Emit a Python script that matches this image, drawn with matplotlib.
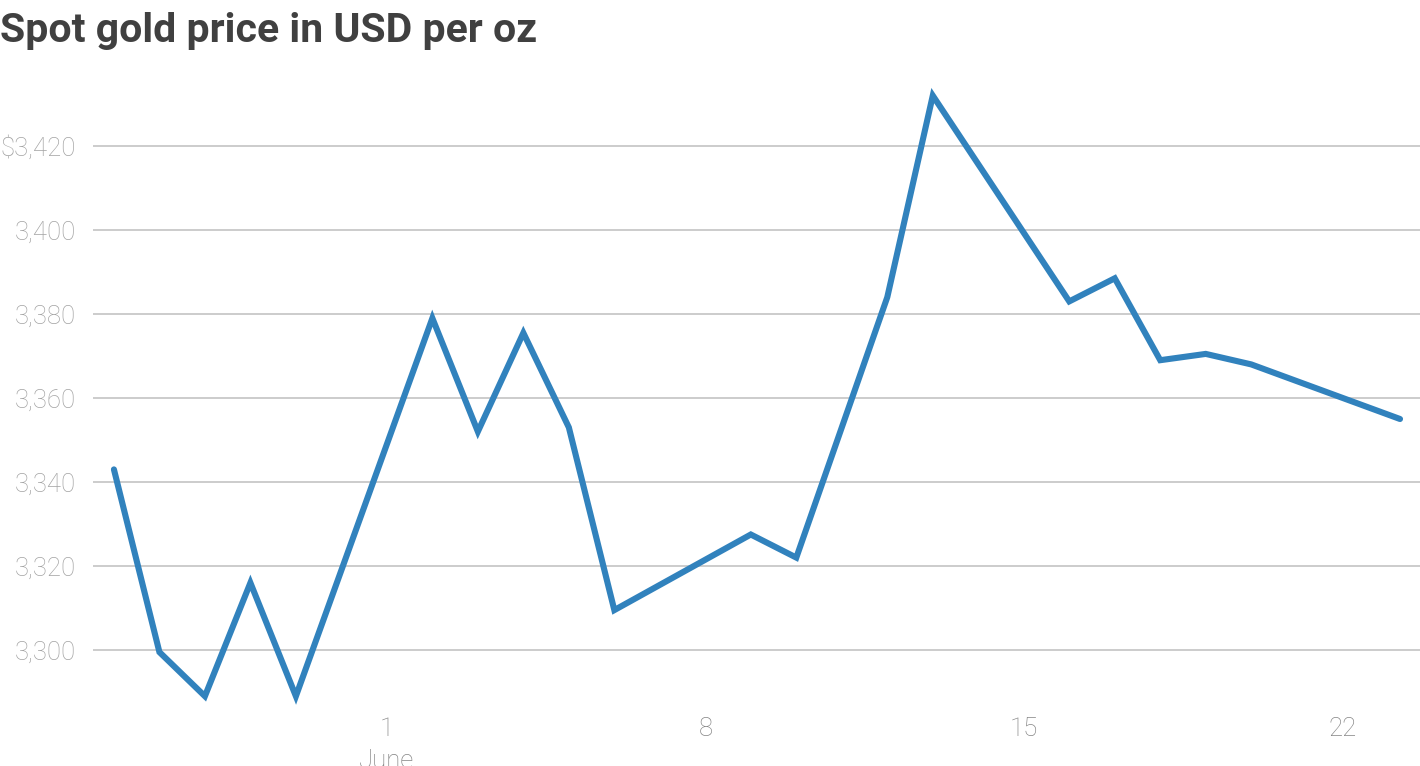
import numpy as np
import pandas as pd
import matplotlib
matplotlib.use('Agg')
import matplotlib.pyplot as plt
import matplotlib.dates as mdates
from matplotlib.ticker import FuncFormatter

# ============================================================================
# data
# ============================================================================

dates = pd.to_datetime([
    '2025-05-26 00:00', '2025-05-27 00:00', '2025-05-28 00:00', '2025-05-29 00:00', '2025-05-30 00:00',
    '2025-06-02 00:00', '2025-06-03 00:00', '2025-06-04 00:00', '2025-06-05 00:00', '2025-06-06 00:00',
    '2025-06-09 00:00', '2025-06-10 00:00', '2025-06-11 00:00', '2025-06-12 00:00', '2025-06-13 00:00',
    '2025-06-16 00:00', '2025-06-17 00:00', '2025-06-18 00:00', '2025-06-19 00:00', '2025-06-20 00:00',
    '2025-06-23 06:30',
], format='%Y-%m-%d %H:%M')
prices = [
    3343, 3299.5, 3289, 3316, 3289,
    3379, 3352, 3375.5, 3353, 3309.5,
    3327.5, 3322, 3353, 3384, 3432,
    3383, 3388.5, 3369, 3370.5, 3368,
    3355,
]

y_ticks = [3300, 3320, 3340, 3360, 3380, 3400, 3420]
x_ticks = pd.to_datetime(['2025-06-01', '2025-06-08', '2025-06-15', '2025-06-22'])
x_labels = ['1\nJune', '8', '15', '22']

title = 'Spot gold price in USD per oz'

# ============================================================================
# drawing
# ============================================================================

plt.rcParams['font.family'] = ['Roboto', 'DejaVu Sans']

fig = plt.figure(figsize=(14.2, 7.66), dpi=100)
ax = fig.add_axes([93 / 1420, 1 - 708.8 / 766, 1 - 93 / 1420, (708.8 - 62) / 766])

ax.plot(dates, prices, color='#3182bd', linewidth=4.4,
        solid_joinstyle='miter', solid_capstyle='round', clip_on=False, zorder=3)

june1 = mdates.date2num(pd.Timestamp('2025-06-01'))
ax.set_xlim(june1 - 6.46, june1 + 22.71)
ax.set_ylim(3286, 3440)

ax.set_yticks(y_ticks)
ax.yaxis.set_major_formatter(FuncFormatter(
    lambda v, p: ('$' if v == y_ticks[-1] else '') + f'{v:,.0f}'))
ax.set_xticks(x_ticks)
ax.set_xticklabels(x_labels)

ax.grid(axis='y', color='#c8c8c8', linewidth=1.3)
ax.set_axisbelow(True)
for s in ax.spines.values():
    s.set_visible(False)

ax.tick_params(axis='y', length=0, pad=12, labelsize=18.5, labelcolor='#a2a2a2')
ax.tick_params(axis='x', length=0, pad=6, labelsize=18.5, labelcolor='#858585')
for lab in ax.get_yticklabels() + ax.get_xticklabels():
    lab.set_fontweight('light')
for lab in ax.get_xticklabels():
    lab.set_linespacing(1.4)
    lab.set_verticalalignment('top')

fig.text(0.0, 1 - 31 / 766, title, fontsize=29.5, fontweight='bold',
         color='#404040', va='center', ha='left', family=['Roboto', 'DejaVu Sans'])

plt.savefig('out.png', dpi=100)
